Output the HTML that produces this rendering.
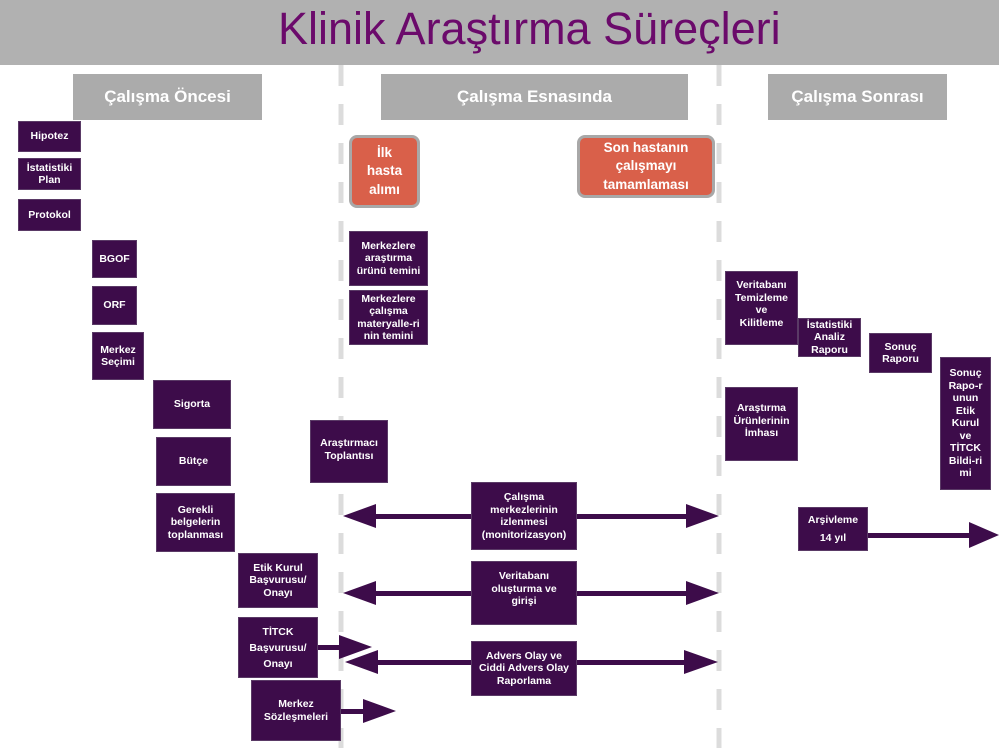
<!DOCTYPE html>
<html><head><meta charset="utf-8"><style>
body{margin:0;width:999px;height:748px;background:#fff;position:relative;overflow:hidden;font-family:"Liberation Sans",Arial,sans-serif}
.t{position:absolute;left:0;top:0;width:999px;height:65px;background:#b1b1b1}
.t span{position:absolute;left:278px;top:3px;font-size:45px;color:#6b0a6b;white-space:nowrap}
.h{position:absolute;background:#ababab;color:#fff;font-weight:bold;font-size:17px;display:flex;align-items:center;justify-content:center}
.b{position:absolute;background:#3d0c4a;color:#fff;font-weight:bold;font-size:10.5px;line-height:12.5px;display:flex;align-items:center;justify-content:center;text-align:center;box-sizing:border-box;border:1px solid #5a3a66}
.r{position:absolute;background:#d9604a;color:#fff;font-weight:bold;font-size:13.5px;line-height:18.5px;display:flex;align-items:center;justify-content:center;text-align:center;border:3px solid #a8a8a8;border-radius:8px;box-sizing:border-box}
svg{position:absolute;left:0;top:0}
</style></head><body>
<div class="t"><span>Klinik Araştırma Süreçleri</span></div>
<svg width="999" height="748">
<line x1="341" y1="65" x2="341" y2="748" stroke="#dcdcdc" stroke-width="5" stroke-dasharray="21,18"/>
<line x1="719" y1="65" x2="719" y2="748" stroke="#dcdcdc" stroke-width="5" stroke-dasharray="21,18"/>
<g fill="#3d0c4a">
<rect x="370" y="514" width="320" height="5"/><polygon points="343,516 376,504 376,528"/><polygon points="719,516 686,504 686,528"/>
<rect x="370" y="591" width="320" height="5"/><polygon points="343,593 376,581 376,605"/><polygon points="719,593 686,581 686,605"/>
<rect x="370" y="660" width="320" height="5"/><polygon points="345,662 378,650 378,674"/><polygon points="718,662 684,650 684,674"/>
<rect x="318" y="645" width="30" height="5"/><polygon points="372,647 339,635 339,659"/>
<rect x="341" y="709" width="30" height="5"/><polygon points="396,711 363,699 363,723"/>
<rect x="868" y="533" width="105" height="5"/><polygon points="999,535 969,522 969,548"/>
</g>
</svg>
<div class="h" style="left:73px;top:74px;width:189px;height:46px">Çalışma Öncesi</div>
<div class="h" style="left:381px;top:74px;width:307px;height:46px">Çalışma Esnasında</div>
<div class="h" style="left:768px;top:74px;width:179px;height:46px">Çalışma Sonrası</div>
<div class="b" style="left:18px;top:121px;width:63px;height:31px">Hipotez</div>
<div class="b" style="left:18px;top:158px;width:63px;height:32px">İstatistiki<br>Plan</div>
<div class="b" style="left:18px;top:199px;width:63px;height:32px">Protokol</div>
<div class="b" style="left:92px;top:240px;width:45px;height:38px">BGOF</div>
<div class="b" style="left:92px;top:286px;width:45px;height:39px">ORF</div>
<div class="b" style="left:92px;top:332px;width:52px;height:48px">Merkez<br>Seçimi</div>
<div class="b" style="left:153px;top:380px;width:78px;height:49px">Sigorta</div>
<div class="b" style="left:156px;top:437px;width:75px;height:49px">Bütçe</div>
<div class="b" style="left:156px;top:493px;width:79px;height:59px">Gerekli<br>belgelerin<br>toplanması</div>
<div class="b" style="left:238px;top:553px;width:80px;height:55px">Etik Kurul<br>Başvurusu/<br>Onayı</div>
<div class="b" style="left:238px;top:617px;width:80px;height:61px;line-height:16px">TİTCK<br>Başvurusu/<br>Onayı</div>
<div class="b" style="left:251px;top:680px;width:90px;height:61px">Merkez<br>Sözleşmeleri</div>
<div class="b" style="left:310px;top:420px;width:78px;height:63px;padding-bottom:4px">Araştırmacı<br>Toplantısı</div>
<div class="r" style="left:349px;top:135px;width:71px;height:73px">İlk<br>hasta<br>alımı</div>
<div class="r" style="left:577px;top:135px;width:138px;height:63px">Son hastanın<br>çalışmayı<br>tamamlaması</div>
<div class="b" style="left:349px;top:231px;width:79px;height:55px">Merkezlere<br>araştırma<br>ürünü temini</div>
<div class="b" style="left:349px;top:290px;width:79px;height:55px">Merkezlere<br>çalışma<br>materyalle-ri<br>nin temini</div>
<div class="b" style="left:471px;top:482px;width:106px;height:68px">Çalışma<br>merkezlerinin<br>izlenmesi<br>(monitorizasyon)</div>
<div class="b" style="left:471px;top:561px;width:106px;height:64px;padding-bottom:8px">Veritabanı<br>oluşturma ve<br>girişi</div>
<div class="b" style="left:471px;top:641px;width:106px;height:55px">Advers Olay ve<br>Ciddi Advers Olay<br>Raporlama</div>
<div class="b" style="left:725px;top:271px;width:73px;height:74px;padding-bottom:8px">Veritabanı<br>Temizleme<br>ve<br>Kilitleme</div>
<div class="b" style="left:798px;top:318px;width:63px;height:39px">İstatistiki<br>Analiz<br>Raporu</div>
<div class="b" style="left:869px;top:333px;width:63px;height:40px">Sonuç<br>Raporu</div>
<div class="b" style="left:940px;top:357px;width:51px;height:133px">Sonuç<br>Rapo-r<br>unun<br>Etik<br>Kurul<br>ve<br>TİTCK<br>Bildi-ri<br>mi</div>
<div class="b" style="left:725px;top:387px;width:73px;height:74px;padding-bottom:6px">Araştırma<br>Ürünlerinin<br>İmhası</div>
<div class="b" style="left:798px;top:507px;width:70px;height:44px;line-height:18px">Arşivleme<br>14 yıl</div>
</body></html>
